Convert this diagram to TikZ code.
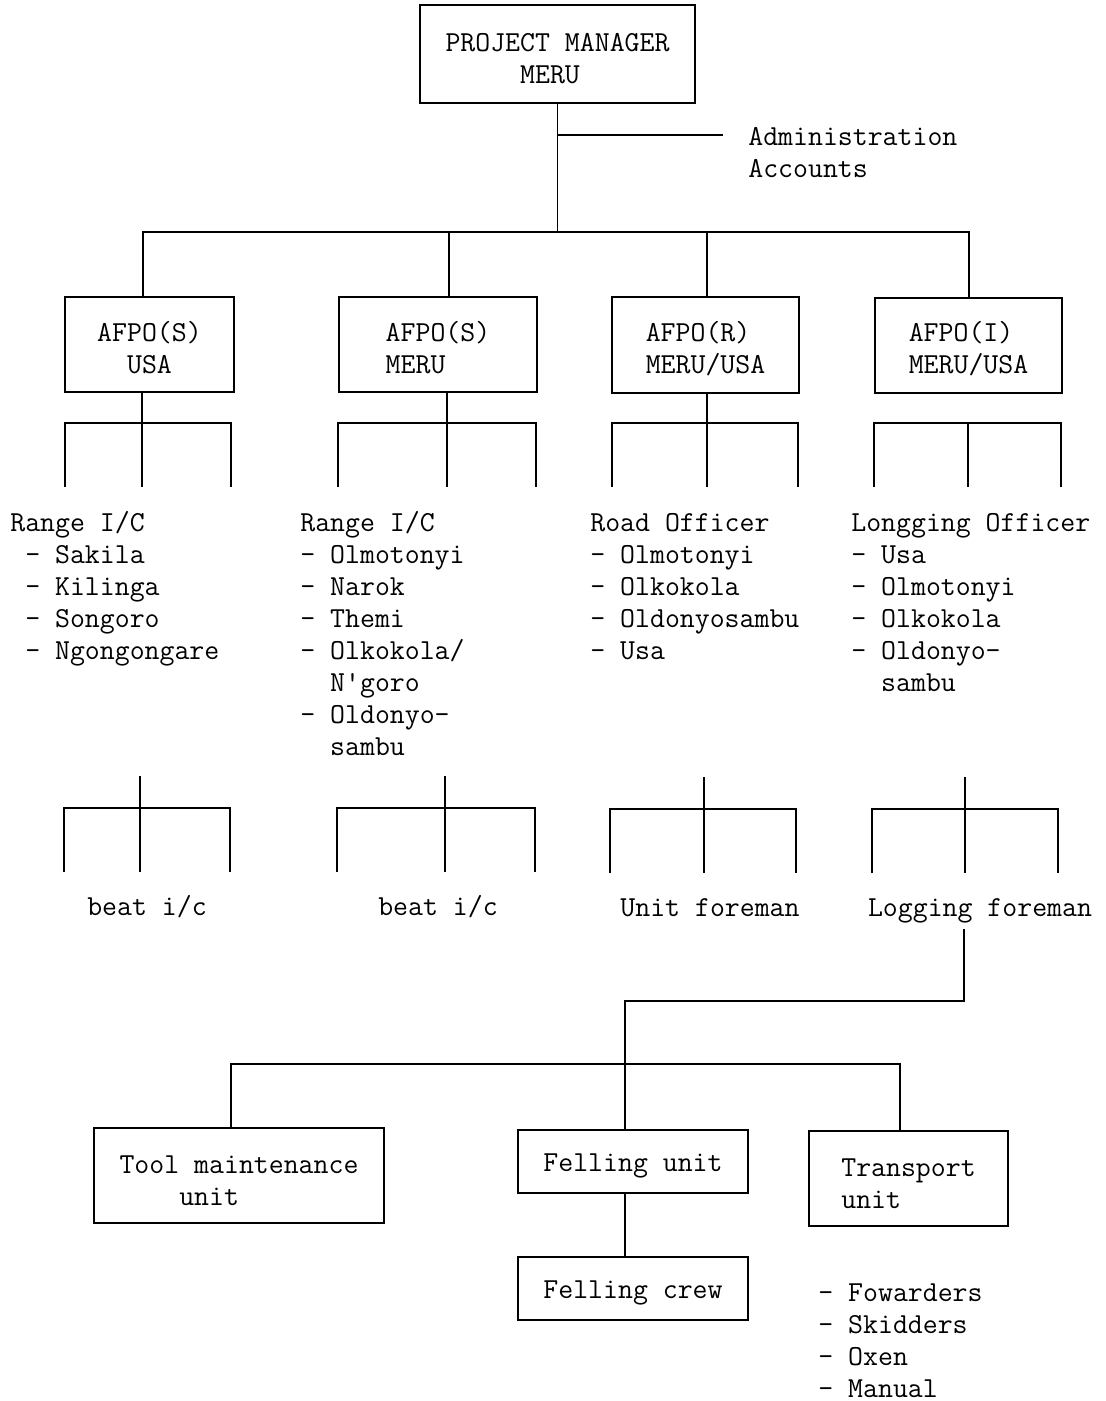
\documentclass[tikz,border=0pt]{standalone}
\usetikzlibrary{positioning,calc}
\newcommand{\orgfont}{\fontsize{16.5}{18.2}\selectfont\ttfamily}
\newcommand{\lift}{\rule{0pt}{15.5pt}}
\tikzset{
  orgbox/.style={draw, line width=0.8pt, inner sep=0pt, align=left, font=\orgfont},
  orglist/.style={inner sep=0pt, align=left, anchor=north west, font=\orgfont},
  orglabel/.style={anchor=base, font=\orgfont},
  orgline/.style={line width=0.8pt},
}

\begin{document}
\begin{tikzpicture}[x=0.02cm,y=-0.02cm]
  \useasboundingbox (0,0) rectangle (1106,1401);
  % Top of the chart
  \node[orgbox, align=center, minimum width=5.5cm, minimum height=1.96cm] (pm) at (557.5,54) {\lift PROJECT MANAGER\\MERU\phantom{I}};
  \node[orglist] (admin) at (748,127) {Administration\\Accounts};
  \coordinate (admend) at (723,135);
  % AFPO boxes
  \node[orgbox, align=center, minimum width=3.38cm, minimum height=1.9cm] (s1) at (149.5,344.5) {\lift AFPO(S)\\USA};
  \node[orgbox, minimum width=3.96cm, minimum height=1.9cm] (s2) at (438,344.5) {\lift AFPO(S)\\MERU};
  \node[orgbox, minimum width=3.74cm, minimum height=1.92cm] (r) at (705.5,345) {\lift AFPO(R)\\MERU/USA};
  \node[orgbox, minimum width=3.74cm, minimum height=1.9cm] (i) at (968.5,345.5) {\lift AFPO(I)\\MERU/USA};
  % Lists below the AFPO boxes
  \node[orglist] (list1) at (10,511) {Range I/C\\\phantom{-}- Sakila\\\phantom{-}- Kilinga\\\phantom{-}- Songoro\\\phantom{-}- Ngongongare};
  \node[orglist] (list2) at (300,511) {Range I/C\\- Olmotonyi\\- Narok\\- Themi\\- Olkokola/\\\phantom{-} N'goro\\- Oldonyo-\\\phantom{-} sambu};
  \node[orglist] (list3) at (590,513) {Road Officer\\- Olmotonyi\\- Olkokola\\- Oldonyosambu\\- Usa};
  \node[orglist] (list4) at (851,513) {Longging Officer\\- Usa\\- Olmotonyi\\- Olkokola\\- Oldonyo-\\\phantom{-} sambu};
  % Foremen
  \node[orglabel] (beat1) at (147,915) {beat i/c};
  \node[orglabel] (beat2) at (438,915) {beat i/c};
  \node[orglabel] (unitfm) at (710,916) {Unit foreman};
  \node[orglabel] (logfm) at (980,916) {Logging foreman};
  % Logging units
  \node[orgbox, minimum width=5.8cm, minimum height=1.9cm] (tool) at (239,1175.5) {\lift Tool maintenance\\\phantom{Tool}unit};
  \node[orgbox, minimum width=4.6cm, minimum height=1.26cm] (fell) at (633,1161.5) {\lift Felling unit};
  \node[orgbox, minimum width=3.98cm, minimum height=1.9cm] (trans) at (908.5,1178.5) {\lift Transport\\unit};
  \node[orgbox, minimum width=4.6cm, minimum height=1.26cm] (crew) at (633,1288.5) {\lift Felling crew};
  \node[orglist] (translist) at (818,1283) {- Fowarders\\- Skidders\\- Oxen\\- Manual};
  % Lines from the manager
  \draw[orgline] (pm.south) -- (pm.south |- 0,232);
  \draw[orgline] (pm.south |- admend) -- (admend);
  \draw[orgline] (s1.north -| 143,0) -- (143,232) -- (969,232) -- (i.north -| 969,0);
  \draw[orgline] (s2.north -| 449,0) -- (449,232);
  \draw[orgline] (r.north -| 707,0) -- (707,232);
  % Brackets under the AFPO boxes
  \draw[orgline] (s1.south -| 142,0) -- (142,487);
  \draw[orgline] (65,487) |- (231,423) -- (231,487);
  \draw[orgline] (s2.south -| 447,0) -- (447,487);
  \draw[orgline] (338,487) |- (536,423) -- (536,487);
  \draw[orgline] (r.south -| 707,0) -- (707,487);
  \draw[orgline] (612,487) |- (798,423) -- (798,487);
  \draw[orgline] (968,423) -- (968,487);
  \draw[orgline] (874,487) |- (1061,423) -- (1061,487);
  % Brackets above the foremen
  \draw[orgline] (140,776) -- (140,872);
  \draw[orgline] (64,872) |- (230,808) -- (230,872);
  \draw[orgline] (445,776) -- (445,872);
  \draw[orgline] (337,872) |- (535,808) -- (535,872);
  \draw[orgline] (704,777) -- (704,873);
  \draw[orgline] (610,873) |- (796,809) -- (796,873);
  \draw[orgline] (965,777) -- (965,873);
  \draw[orgline] (872,873) |- (1058,809) -- (1058,873);
  % Logging foreman to units
  \draw[orgline] (logfm.south -| 964,0) -- (964,1001) -- (625,1001) -- (fell.north -| 625,0);
  \draw[orgline] (tool.north -| 231,0) -- (231,1064) -- (900,1064) -- (trans.north -| 900,0);
  \draw[orgline] (fell.south -| 625,0) -- (crew.north -| 625,0);
\end{tikzpicture}
\end{document}
